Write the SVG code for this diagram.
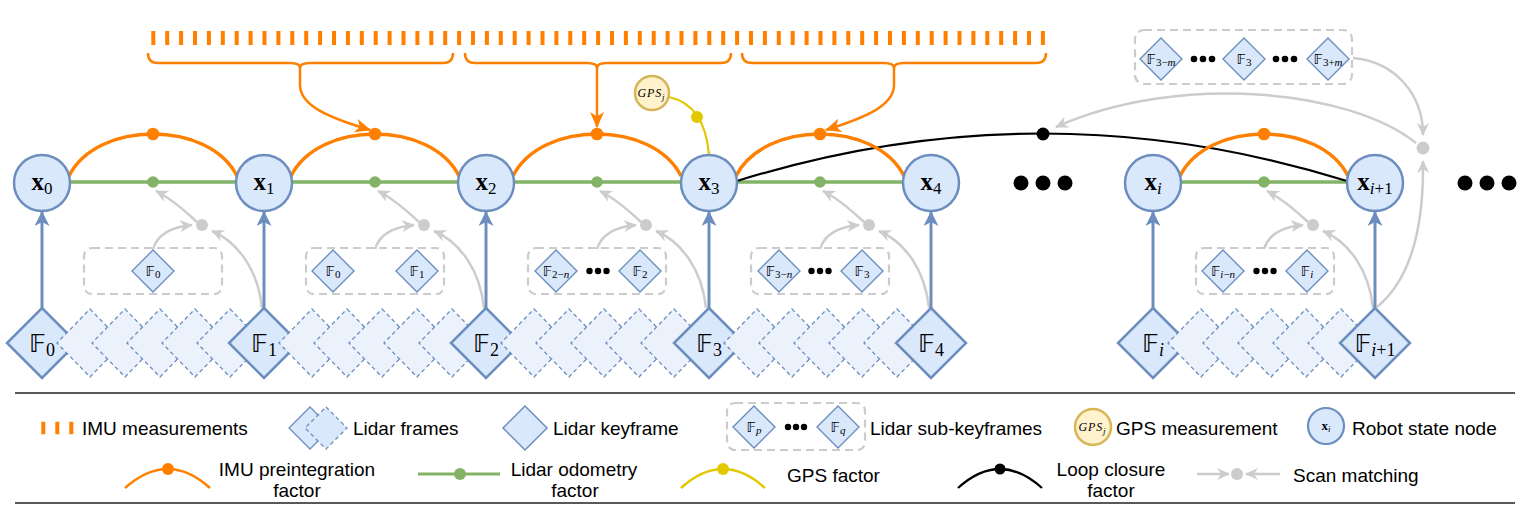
<svg xmlns="http://www.w3.org/2000/svg" width="1530" height="514" viewBox="0 0 1530 514">
<defs>
<style>
.st{fill:#dae8fc;stroke:#6c8ebf;stroke-width:2.5}
.kf{fill:#dae8fc;stroke:#6c8ebf;stroke-width:2.5}
.lf{fill:#ecf2fc;stroke:#6c8ebf;stroke-width:1.3;stroke-dasharray:4 3}
.sk{fill:#dae8fc;stroke:#6c8ebf;stroke-width:1.4}
.box{fill:none;stroke:#cccccc;stroke-width:2.2;stroke-dasharray:8 5}
.imu{fill:none;stroke:#ff8000;stroke-width:3.5}
.br{fill:none;stroke:#ff8000;stroke-width:2.5}
.od{fill:none;stroke:#82b366;stroke-width:3.5}
.sm{fill:none;stroke:#cccccc;stroke-width:2.5}
.ba{fill:none;stroke:#6c8ebf;stroke-width:3}
.lc{fill:none;stroke:#000;stroke-width:2.2}
.gp{fill:none;stroke:#e3c800;stroke-width:2.2}
.do{fill:#ff8000}.dg{fill:#82b366}.dy{fill:#e3c800}.dk{fill:#000}.ds{fill:#cccccc}
.gps{fill:#fff2cc;stroke:#d6b656;stroke-width:2.5}
.lg{font-family:"Liberation Sans",Arial,sans-serif;font-size:19px;fill:#000}
.bb{font-family:"DejaVu Sans","DejaVu Serif",sans-serif}
.sr{font-family:"Liberation Serif","Times New Roman",serif}
.xl{text-anchor:middle;fill:#000}
.xb{font-family:"Liberation Serif",serif;font-weight:bold;font-size:25px}
.xs{font-family:"Liberation Serif",serif;font-size:17px}
.fl{text-anchor:middle;fill:#000}
.fb{font-family:"DejaVu Sans","DejaVu Serif",sans-serif;font-size:25px}
.fs{font-family:"Liberation Serif",serif;font-size:18px}
.sb{font-family:"DejaVu Sans","DejaVu Serif",sans-serif;font-size:14px}
.ss{font-family:"Liberation Serif",serif;font-size:11px}
.it{font-style:italic}
.rule{stroke:#222;stroke-width:1.6}
</style>
<path id="dkf" d="M0,-35 L35,0 L0,35 L-35,0 Z"/>
<path id="dlf" d="M0,-34 L33,0 L0,34 L-33,0 Z"/>
<path id="dsk" d="M0,-21 L21,0 L0,21 L-21,0 Z"/>
<marker id="mb" viewBox="0 0 15 15" refX="14" refY="7.5" markerWidth="15" markerHeight="15" orient="auto" markerUnits="userSpaceOnUse"><path d="M0,0 L15,7.5 L0,15 L4,7.5 Z" fill="#6c8ebf"/></marker>
<marker id="mg" viewBox="0 0 13 12" refX="12" refY="6" markerWidth="13" markerHeight="12" orient="auto" markerUnits="userSpaceOnUse"><path d="M0,0 L13,6 L0,12 L4,6 Z" fill="#cccccc"/></marker>
<marker id="mo" viewBox="0 0 16 14" refX="15" refY="7" markerWidth="16" markerHeight="14" orient="auto" markerUnits="userSpaceOnUse"><path d="M0,0 L16,7 L0,14 L4.5,7 Z" fill="#ff8000"/></marker>
</defs>
<rect width="1530" height="514" fill="#fff"/>

<g id="imu-measurements">
<line x1="151.3" y1="38" x2="1045" y2="38" stroke="#ff8000" stroke-width="14" stroke-dasharray="4 9.9"/>
</g>

<g id="connectors">
<path class="br" d="M148,53 Q148,63 158,63 L290,63 Q300,63 300,68 Q300,63 310,63 L443,63 Q453,63 453,53"/>
<path class="br" d="M465,53 Q465,63 475,63 L587,63 Q597,63 597,68 Q597,63 607,63 L721,63 Q731,63 731,53"/>
<path class="br" d="M742,53 Q742,63 752,63 L884,63 Q894,63 894,68 Q894,63 904,63 L1036,63 Q1046,63 1046,53"/>
<path class="br" d="M300,66 L300,85 C300,106 330,118 370,130" marker-end="url(#mo)"/>
<path class="br" d="M597,66 L597,127" marker-end="url(#mo)"/>
<path class="br" d="M894,66 L894,85 C894,106 864,118 826,130" marker-end="url(#mo)"/>

<g id="scan-matching">
<path class="sm" d="M153,249 C157,236 170,227 192,225" marker-end="url(#mg)"/>
<path class="sm" d="M262,308 C258,270 238,242 212,231" marker-end="url(#mg)"/>
<path class="sm" d="M197,222 C182,208 170,198 156,191" marker-end="url(#mg)"/>
<circle class="ds" cx="202" cy="225" r="6"/>

<path class="sm" d="M375,249 C379,236 392,227 414,225" marker-end="url(#mg)"/>
<path class="sm" d="M484,308 C480,270 460,242 434,231" marker-end="url(#mg)"/>
<path class="sm" d="M419,222 C404,208 392,198 378,191" marker-end="url(#mg)"/>
<circle class="ds" cx="424" cy="225" r="6"/>

<path class="sm" d="M597,249 C601,236 614,227 636,225" marker-end="url(#mg)"/>
<path class="sm" d="M706,308 C702,270 682,242 656,231" marker-end="url(#mg)"/>
<path class="sm" d="M641,222 C626,208 614,198 600,191" marker-end="url(#mg)"/>
<circle class="ds" cx="646" cy="225" r="6"/>

<path class="sm" d="M820,249 C824,236 837,227 859,225" marker-end="url(#mg)"/>
<path class="sm" d="M929,308 C925,270 905,242 879,231" marker-end="url(#mg)"/>
<path class="sm" d="M864,222 C849,208 837,198 823,191" marker-end="url(#mg)"/>
<circle class="ds" cx="869" cy="225" r="6"/>

<path class="sm" d="M1264,249 C1268,236 1281,227 1303,225" marker-end="url(#mg)"/>
<path class="sm" d="M1373,308 C1369,270 1349,242 1323,231" marker-end="url(#mg)"/>
<path class="sm" d="M1308,222 C1293,208 1281,198 1267,191" marker-end="url(#mg)"/>
<circle class="ds" cx="1313" cy="225" r="6"/>

<path class="sm" d="M1353,58 C1396,62 1423,95 1423,135" marker-end="url(#mg)"/>
<path class="sm" d="M1377,307 C1410,280 1424,230 1423,161" marker-end="url(#mg)"/>
<path class="sm" d="M1416,143 C1350,90 1180,72 1056,127" marker-end="url(#mg)"/>
<circle class="ds" cx="1423" cy="148" r="6.5"/>
</g>

<path class="ba" d="M42,308 L42,212" marker-end="url(#mb)"/>
<path class="ba" d="M264,308 L264,212" marker-end="url(#mb)"/>
<path class="ba" d="M486,308 L486,212" marker-end="url(#mb)"/>
<path class="ba" d="M709,308 L709,212" marker-end="url(#mb)"/>
<path class="ba" d="M931,308 L931,212" marker-end="url(#mb)"/>
<path class="ba" d="M1153,308 L1153,212" marker-end="url(#mb)"/>
<path class="ba" d="M1375,308 L1375,212" marker-end="url(#mb)"/>

<path class="od" d="M70,182 L236,182"/><circle class="dg" cx="153" cy="182" r="5.8"/>
<path class="od" d="M292,182 L458,182"/><circle class="dg" cx="375" cy="182" r="5.8"/>
<path class="od" d="M514,182 L681,182"/><circle class="dg" cx="597" cy="182" r="5.8"/>
<path class="od" d="M737,182 L903,182"/><circle class="dg" cx="820" cy="182" r="5.8"/>
<path class="od" d="M1181,182 L1347,182"/><circle class="dg" cx="1264" cy="182" r="5.8"/>

<path class="lc" d="M737,181 Q1042,86 1347,181"/>
<circle class="dk" cx="1043" cy="134" r="6.5"/>

<path class="imu" d="M69,176 C97,120 209,120 237,176"/><circle class="do" cx="153" cy="134" r="6.3"/>
<path class="imu" d="M291,176 C319,120 431,120 459,176"/><circle class="do" cx="375" cy="134" r="6.3"/>
<path class="imu" d="M513,176 C541,120 653,120 681,176"/><circle class="do" cx="597" cy="134" r="6.3"/>
<path class="imu" d="M736,176 C764,120 876,120 904,176"/><circle class="do" cx="820" cy="134" r="6.3"/>
<path class="imu" d="M1180,176 C1208,120 1320,120 1348,176"/><circle class="do" cx="1264" cy="134" r="6.3"/>

<path class="gp" d="M669,97 Q705,105 709,155"/>
<circle class="dy" cx="697" cy="117" r="6"/>
</g>

<g id="sub-keyframes-0">
<rect class="box" x="84" y="248" width="138" height="46" rx="8"/>
<use href="#dsk" x="153" y="271" class="sk"/>
<text class="fl" x="153" y="276"><tspan class="sb">𝔽</tspan><tspan class="ss" dy="2">0</tspan></text>
</g>
<g id="sub-keyframes-1">
<rect class="box" x="306" y="248" width="138" height="46" rx="8"/>
<use href="#dsk" x="333" y="271" class="sk"/>
<text class="fl" x="333" y="276"><tspan class="sb">𝔽</tspan><tspan class="ss" dy="2">0</tspan></text>
<use href="#dsk" x="417" y="271" class="sk"/>
<text class="fl" x="417" y="276"><tspan class="sb">𝔽</tspan><tspan class="ss" dy="2">1</tspan></text>
</g>
<g id="sub-keyframes-2">
<rect class="box" x="528" y="248" width="138" height="46" rx="8"/>
<use href="#dsk" x="556" y="271" class="sk"/>
<text class="fl" x="556" y="276"><tspan class="sb">𝔽</tspan><tspan class="ss" dy="2">2−</tspan><tspan class="ss it">n</tspan></text>
<circle class="dk" cx="589.5" cy="271" r="3.2"/><circle class="dk" cx="598" cy="271" r="3.2"/><circle class="dk" cx="606.5" cy="271" r="3.2"/>
<use href="#dsk" x="640" y="271" class="sk"/>
<text class="fl" x="640" y="276"><tspan class="sb">𝔽</tspan><tspan class="ss" dy="2">2</tspan></text>
</g>
<g id="sub-keyframes-3">
<rect class="box" x="751" y="248" width="138" height="46" rx="8"/>
<use href="#dsk" x="779" y="271" class="sk"/>
<text class="fl" x="779" y="276"><tspan class="sb">𝔽</tspan><tspan class="ss" dy="2">3−</tspan><tspan class="ss it">n</tspan></text>
<circle class="dk" cx="811.5" cy="271" r="3.2"/><circle class="dk" cx="820" cy="271" r="3.2"/><circle class="dk" cx="828.5" cy="271" r="3.2"/>
<use href="#dsk" x="862" y="271" class="sk"/>
<text class="fl" x="862" y="276"><tspan class="sb">𝔽</tspan><tspan class="ss" dy="2">3</tspan></text>
</g>
<g id="sub-keyframes-i">
<rect class="box" x="1196" y="248" width="138" height="46" rx="8"/>
<use href="#dsk" x="1223" y="271" class="sk"/>
<text class="fl" x="1223" y="276"><tspan class="sb">𝔽</tspan><tspan class="ss it" dy="2">i</tspan><tspan class="ss">−</tspan><tspan class="ss it">n</tspan></text>
<circle class="dk" cx="1256.5" cy="271" r="3.2"/><circle class="dk" cx="1265" cy="271" r="3.2"/><circle class="dk" cx="1273.5" cy="271" r="3.2"/>
<use href="#dsk" x="1307" y="271" class="sk"/>
<text class="fl" x="1307" y="276"><tspan class="sb">𝔽</tspan><tspan class="ss it" dy="2">i</tspan></text>
</g>
<g id="loop-candidates">
<rect class="box" x="1135" y="30" width="217" height="54" rx="9"/>
<use href="#dsk" x="1161" y="59" class="sk"/>
<text class="fl" x="1161" y="64"><tspan class="sb">𝔽</tspan><tspan class="ss" dy="2">3−</tspan><tspan class="ss it">m</tspan></text>
<circle class="dk" cx="1194" cy="59" r="3.3"/><circle class="dk" cx="1203" cy="59" r="3.3"/><circle class="dk" cx="1212" cy="59" r="3.3"/>
<use href="#dsk" x="1244" y="59" class="sk"/>
<text class="fl" x="1244" y="64"><tspan class="sb">𝔽</tspan><tspan class="ss" dy="2">3</tspan></text>
<circle class="dk" cx="1276" cy="59" r="3.3"/><circle class="dk" cx="1285" cy="59" r="3.3"/><circle class="dk" cx="1294" cy="59" r="3.3"/>
<use href="#dsk" x="1328" y="59" class="sk"/>
<text class="fl" x="1328" y="64"><tspan class="sb">𝔽</tspan><tspan class="ss" dy="2">3+</tspan><tspan class="ss it">m</tspan></text>
</g>

<g id="keyframe-0"><use href="#dkf" x="42" y="343" class="kf"/><text class="fl" x="42" y="352"><tspan class="fb">𝔽</tspan><tspan class="fs" dy="4">0</tspan></text></g>
<g id="frames-0">
<use href="#dlf" x="90" y="343" class="lf"/><use href="#dlf" x="125" y="343" class="lf"/><use href="#dlf" x="160" y="343" class="lf"/><use href="#dlf" x="195" y="343" class="lf"/><use href="#dlf" x="230" y="343" class="lf"/>
</g>
<g id="keyframe-1"><use href="#dkf" x="264" y="343" class="kf"/><text class="fl" x="264" y="352"><tspan class="fb">𝔽</tspan><tspan class="fs" dy="4">1</tspan></text></g>
<g id="frames-1">
<use href="#dlf" x="312" y="343" class="lf"/><use href="#dlf" x="347" y="343" class="lf"/><use href="#dlf" x="382" y="343" class="lf"/><use href="#dlf" x="417" y="343" class="lf"/><use href="#dlf" x="452" y="343" class="lf"/>
</g>
<g id="keyframe-2"><use href="#dkf" x="486" y="343" class="kf"/><text class="fl" x="486" y="352"><tspan class="fb">𝔽</tspan><tspan class="fs" dy="4">2</tspan></text></g>
<g id="frames-2">
<use href="#dlf" x="534" y="343" class="lf"/><use href="#dlf" x="569" y="343" class="lf"/><use href="#dlf" x="604" y="343" class="lf"/><use href="#dlf" x="639" y="343" class="lf"/><use href="#dlf" x="674" y="343" class="lf"/>
</g>
<g id="keyframe-3"><use href="#dkf" x="709" y="343" class="kf"/><text class="fl" x="709" y="352"><tspan class="fb">𝔽</tspan><tspan class="fs" dy="4">3</tspan></text></g>
<g id="frames-3">
<use href="#dlf" x="757" y="343" class="lf"/><use href="#dlf" x="792" y="343" class="lf"/><use href="#dlf" x="827" y="343" class="lf"/><use href="#dlf" x="862" y="343" class="lf"/><use href="#dlf" x="897" y="343" class="lf"/>
</g>
<g id="keyframe-4"><use href="#dkf" x="931" y="343" class="kf"/><text class="fl" x="931" y="352"><tspan class="fb">𝔽</tspan><tspan class="fs" dy="4">4</tspan></text></g>
<g id="keyframe-i"><use href="#dkf" x="1153" y="343" class="kf"/><text class="fl" x="1153" y="352"><tspan class="fb">𝔽</tspan><tspan class="fs it" dy="4">i</tspan></text></g>
<g id="frames-i">
<use href="#dlf" x="1201" y="343" class="lf"/><use href="#dlf" x="1236" y="343" class="lf"/><use href="#dlf" x="1271" y="343" class="lf"/><use href="#dlf" x="1306" y="343" class="lf"/><use href="#dlf" x="1341" y="343" class="lf"/>
</g>
<g id="keyframe-i1"><use href="#dkf" x="1375" y="343" class="kf"/><text class="fl" x="1375" y="352"><tspan class="fb">𝔽</tspan><tspan class="fs it" dy="4">i</tspan><tspan class="fs">+1</tspan></text></g>

<g id="x0"><circle class="st" cx="42" cy="183" r="28"/><text class="xl" x="42" y="190"><tspan class="xb">x</tspan><tspan class="xs" dy="4">0</tspan></text></g>
<g id="x1"><circle class="st" cx="264" cy="183" r="28"/><text class="xl" x="264" y="190"><tspan class="xb">x</tspan><tspan class="xs" dy="4">1</tspan></text></g>
<g id="x2"><circle class="st" cx="486" cy="183" r="28"/><text class="xl" x="486" y="190"><tspan class="xb">x</tspan><tspan class="xs" dy="4">2</tspan></text></g>
<g id="x3"><circle class="st" cx="709" cy="183" r="28"/><text class="xl" x="709" y="190"><tspan class="xb">x</tspan><tspan class="xs" dy="4">3</tspan></text></g>
<g id="x4"><circle class="st" cx="931" cy="183" r="28"/><text class="xl" x="931" y="190"><tspan class="xb">x</tspan><tspan class="xs" dy="4">4</tspan></text></g>
<g id="xi"><circle class="st" cx="1153" cy="183" r="28"/><text class="xl" x="1153" y="190"><tspan class="xb">x</tspan><tspan class="xs it" dy="4">i</tspan></text></g>
<g id="xi1"><circle class="st" cx="1375" cy="183" r="28"/><text class="xl" x="1375" y="190"><tspan class="xb">x</tspan><tspan class="xs it" dy="4">i</tspan><tspan class="xs">+1</tspan></text></g>

<g id="gps-j"><circle class="gps" cx="652" cy="93" r="17"/><text class="xl" x="651" y="97"><tspan class="sr it" font-size="12" letter-spacing="0.8">GPS</tspan><tspan class="sr it" font-size="9" dy="3">j</tspan></text></g>

<g id="ellipsis">
<circle class="dk" cx="1021" cy="183" r="7.5"/><circle class="dk" cx="1043" cy="183" r="7.5"/><circle class="dk" cx="1065" cy="183" r="7.5"/>
<circle class="dk" cx="1465" cy="183" r="7.5"/><circle class="dk" cx="1487" cy="183" r="7.5"/><circle class="dk" cx="1509" cy="183" r="7.5"/>
</g>

<g id="legend">
<line class="rule" x1="15" y1="393" x2="1515" y2="393"/>
<line class="rule" x1="15" y1="503" x2="1515" y2="503"/>
<line x1="41.3" y1="428" x2="74" y2="428" stroke="#ff8000" stroke-width="12.6" stroke-dasharray="4 10"/>
<text class="lg" x="82" y="435">IMU measurements</text>
<path d="M310,407 L331,428 L310,449 L289,428 Z" fill="#dae8fc" stroke="#6c8ebf" stroke-width="1.3"/>
<path d="M326,407 L347,428 L326,449 L305,428 Z" fill="#dae8fc" stroke="#6c8ebf" stroke-width="1.3" stroke-dasharray="4 3"/>
<text class="lg" x="353" y="435">Lidar frames</text>
<path d="M525,406 L547,428 L525,450 L503,428 Z" fill="#dae8fc" stroke="#6c8ebf" stroke-width="1.5"/>
<text class="lg" x="553" y="435">Lidar keyframe</text>
<rect class="box" x="727" y="403" width="138" height="47" rx="8"/>
<use href="#dsk" x="754" y="427" class="sk"/>
<text class="fl" x="754" y="432"><tspan class="sb">𝔽</tspan><tspan class="ss it" dy="2">p</tspan></text>
<circle class="dk" cx="788" cy="427" r="3.2"/><circle class="dk" cx="796" cy="427" r="3.2"/><circle class="dk" cx="804" cy="427" r="3.2"/>
<use href="#dsk" x="838" y="427" class="sk"/>
<text class="fl" x="838" y="432"><tspan class="sb">𝔽</tspan><tspan class="ss it" dy="2">q</tspan></text>
<text class="lg" x="870" y="435">Lidar sub-keyframes</text>
<circle class="gps" cx="1093" cy="427" r="18"/>
<text class="xl" x="1092" y="431"><tspan class="sr it" font-size="12" letter-spacing="0.8">GPS</tspan><tspan class="sr it" font-size="9" dy="3">j</tspan></text>
<text class="lg" x="1116" y="435">GPS measurement</text>
<circle cx="1326" cy="426" r="18" fill="#dae8fc" stroke="#6c8ebf" stroke-width="2.2"/>
<text class="xl" x="1326" y="430"><tspan font-family="Liberation Serif,serif" font-weight="bold" font-size="13">x</tspan><tspan font-family="Liberation Serif,serif" font-style="italic" font-size="9" dy="2">i</tspan></text>
<text class="lg" x="1352" y="435">Robot state node</text>

<path d="M125,488 Q168,450 210,488" fill="none" stroke="#ff8000" stroke-width="2.6"/>
<circle class="do" cx="168" cy="469" r="6"/>
<text class="lg" x="297" y="476" text-anchor="middle">IMU preintegration</text>
<text class="lg" x="297" y="497" text-anchor="middle">factor</text>
<line x1="418" y1="474" x2="500" y2="474" stroke="#82b366" stroke-width="3"/>
<circle class="dg" cx="460" cy="474" r="6"/>
<text class="lg" x="574" y="476" text-anchor="middle">Lidar odometry</text>
<text class="lg" x="575" y="497" text-anchor="middle">factor</text>
<path d="M681,488 Q723,450 765,488" fill="none" stroke="#e3c800" stroke-width="2.6"/>
<circle class="dy" cx="723" cy="469" r="6"/>
<text class="lg" x="787" y="482">GPS factor</text>
<path d="M958,488 Q1000,450 1042,488" fill="none" stroke="#000" stroke-width="2.2"/>
<circle class="dk" cx="1000" cy="469" r="5.5"/>
<text class="lg" x="1111" y="476" text-anchor="middle">Loop closure</text>
<text class="lg" x="1111" y="497" text-anchor="middle">factor</text>
<path class="sm" d="M1197,474 L1229,474" marker-end="url(#mg)"/>
<path class="sm" d="M1280,474 L1246,474" marker-end="url(#mg)"/>
<circle class="ds" cx="1237" cy="474" r="6"/>
<text class="lg" x="1293" y="482">Scan matching</text>
</g>
</svg>
